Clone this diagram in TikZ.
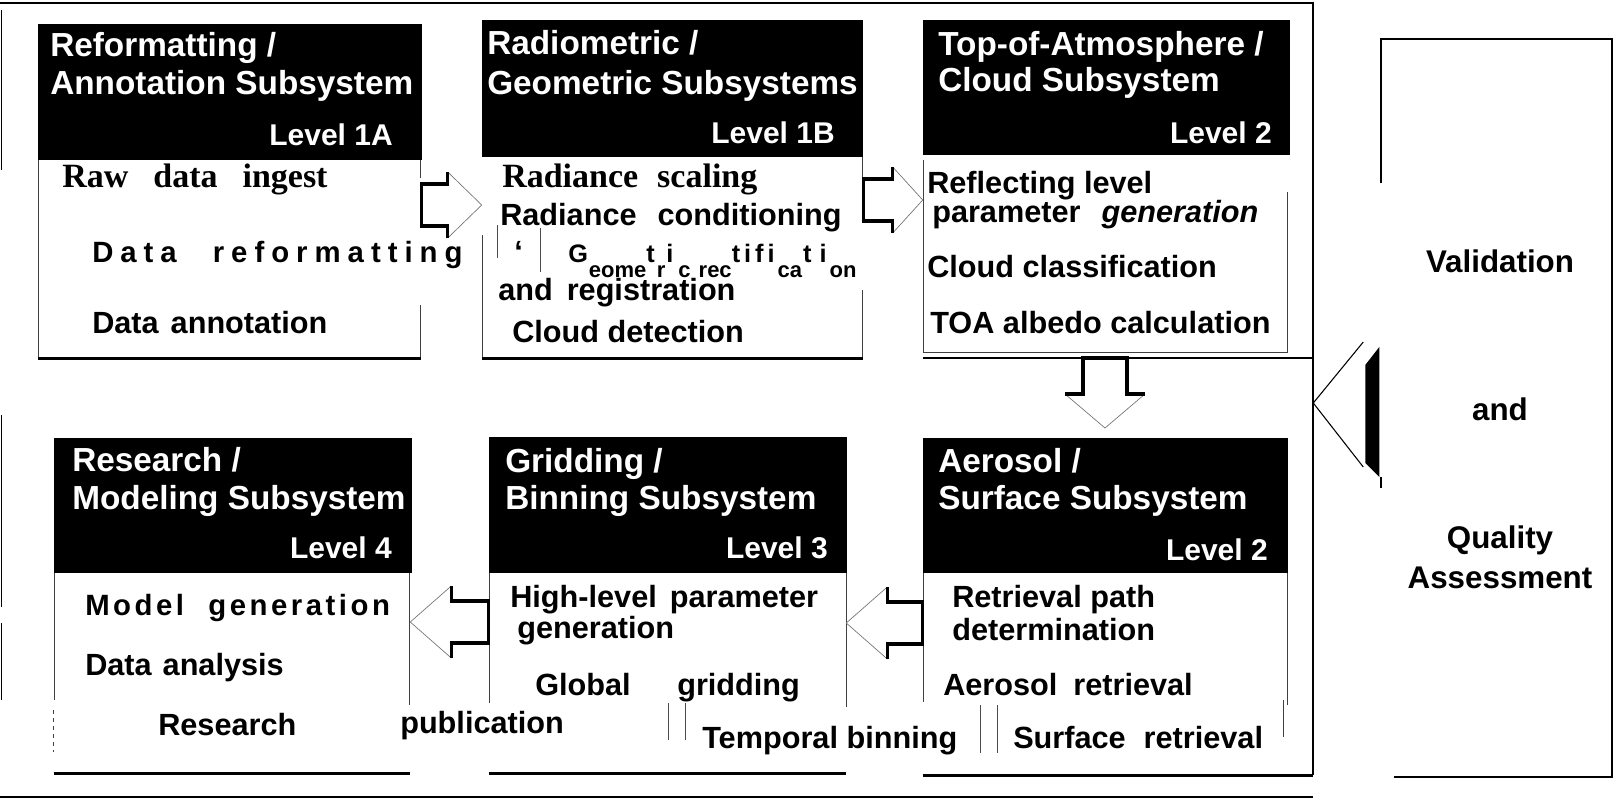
\documentclass[tikz,border=0pt]{standalone}
\usepackage{fontspec}
\setmainfont{Liberation Sans}
\newfontfamily\serifface{Liberation Serif}
\usetikzlibrary{calc,fit}
\newdimen\pxu \pxu=0.75pt
\newdimen\lsp
\newcommand\gap[1]{\hspace*{#1\pxu}}
\makeatletter
\def\spc#1{\spc@#1\relax}
\def\spc@#1{\ifx#1\relax\else#1\hspace*{\lsp}\expandafter\spc@\fi}
\makeatother
% lowered small letters inside the rectification line
\newcommand\lowsm[1]{\raisebox{-15\pxu}{\fontsize{16.5}{18}\selectfont #1}}
% block arrow: #1 tail, #2 tip, (#3,#4) direction, #5 head length, #6 head half-width, #7 shaft half-width
\newcommand\blockarrow[7]{%
  \coordinate (ba1) at ($(#2)+({-(#5)*(#3)-(#6)*(#4)},{-(#5)*(#4)+(#6)*(#3)})$);
  \coordinate (ba2) at ($(#2)+({-(#5)*(#3)+(#6)*(#4)},{-(#5)*(#4)-(#6)*(#3)})$);
  \coordinate (bs1) at ($(#2)+({-(#5)*(#3)-(#7)*(#4)},{-(#5)*(#4)+(#7)*(#3)})$);
  \coordinate (bs2) at ($(#2)+({-(#5)*(#3)+(#7)*(#4)},{-(#5)*(#4)-(#7)*(#3)})$);
  \coordinate (bt1) at ($(#1)+({-(#7)*(#4)},{(#7)*(#3)})$);
  \coordinate (bt2) at ($(#1)+({(#7)*(#4)},{-(#7)*(#3)})$);
  \fill[white] (ba1) -- (#2) -- (ba2) -- (bs2) -- (bt2) -- (bt1) -- (bs1) -- cycle;
  \draw[headedge] (ba1) -- (#2) -- (ba2);
  \draw[arrowshadow] (ba1) -- (bs1) -- (bt1) -- (bt2) -- (bs2) -- (ba2);
}
\tikzset{
  hdrbox/.style={fill=black, inner sep=0pt},
  bodybox/.style={inner sep=0pt},
  hdt/.style={anchor=base west, inner sep=0pt, text=white, font=\bfseries\fontsize{25}{30}\selectfont},
  lvl/.style={anchor=base east, inner sep=0pt, text=white, font=\bfseries\fontsize{22.5}{27}\selectfont},
  bt/.style={anchor=base west, inner sep=0pt, font=\bfseries\fontsize{23}{28}\selectfont},
  sbt/.style={anchor=base west, inner sep=0pt, font=\serifface\bfseries\fontsize{25.5}{30}\selectfont},
  geob/.style={anchor=base west, inner sep=0pt, font=\bfseries\fontsize{19}{23}\selectfont},
  valt/.style={anchor=base, inner sep=0pt, font=\bfseries\fontsize{23.5}{28}\selectfont},
  frameline/.style={line width=1.9pt},
  boxfloor/.style={line width=1.9pt},
  sideline/.style={line width=0.6pt, black!75},
  scrap/.style={line width=0.6pt, black!70},
  headedge/.style={line width=0.5pt, black!55},
  arrowshadow/.style={line width=2.4pt, line join=miter},
}
\begin{document}
\begin{tikzpicture}[x=0.75pt, y=-0.75pt]
\useasboundingbox (0,0) rectangle (1614,799);

% outer frame of the processing chain
\node[bodybox, fit={(0,3) (1313,797)}] (frame) {};
\draw[frameline] (0,3) -- (1313,3) -- (1313,775);
\draw[frameline] (0,797) -- (1313,797);
\draw[line width=1.1pt] (1.5,10) -- (1.5,170) (1.5,415) -- (1.5,607) (1.5,623) -- (1.5,700);

% validation box
\node[bodybox, fit={(1381,39) (1612,777)}] (val) {};
\draw[line width=1.5pt] (1381,183) -- (1381,39) -- (1612,39) -- (1612,777) -- (1394,777);
\draw[line width=1.5pt] (1381,477) -- (1381,488);
\node[valt] (v1) at (1500,272) {Validation};
\node[valt] (v2) at (1500,420) {and};
\node[valt] (v3) at (1500,548) {Quality};
\node[valt] (v4) at (1500,588) {Assessment};

% headers
\node[hdrbox, fit={(38,24) (422,160)}] (hA) {};
\node[hdrbox, fit={(482,20) (863,157)}] (hB) {};
\node[hdrbox, fit={(923,20) (1290,155)}] (hC) {};
\node[hdrbox, fit={(54,438) (412,573)}] (hD) {};
\node[hdrbox, fit={(489,437) (847,573)}] (hE) {};
\node[hdrbox, fit={(923,438) (1288,573)}] (hF) {};

\node[hdt] (tA1) at (50,57) {Reformatting /};
\node[hdt] (tA2) at (50,94) {Annotation Subsystem};
\node[lvl] (tA3) at (393,146) {Level 1A};
\node[hdt] (tB1) at (487,55) {Radiometric /};
\node[hdt] (tB2) at (487,94) {Geometric Subsystems};
\node[lvl] (tB3) at (835,143) {Level 1B};
\node[hdt] (tC1) at (938,56) {Top-of-Atmosphere /};
\node[hdt] (tC2) at (938,92) {Cloud Subsystem};
\node[lvl] (tC3) at (1272,143) {Level 2};
\node[hdt] (tD1) at (72,471) {Research /};
\node[hdt] (tD2) at (72,509) {Modeling Subsystem};
\node[lvl] (tD3) at (392,558) {Level 4};
\node[hdt] (tE1) at (505,472) {Gridding /};
\node[hdt] (tE2) at (505,509) {Binning Subsystem};
\node[lvl] (tE3) at (828,558) {Level 3};
\node[hdt] (tF1) at (938,472) {Aerosol /};
\node[hdt] (tF2) at (938,509) {Surface Subsystem};
\node[lvl] (tF3) at (1268,560) {Level 2};

% bodies
\node[bodybox, fit={(38,160) (421,358)}] (bA) {};
\node[bodybox, fit={(482,157) (863,358)}] (bB) {};
\node[bodybox, fit={(923,155) (1288,352)}] (bC) {};
\node[bodybox, fit={(54,573) (410,773)}] (bD) {};
\node[bodybox, fit={(489,573) (846,773)}] (bE) {};
\node[bodybox, fit={(923,573) (1288,775)}] (bF) {};

\draw[sideline] (38,160) -- (38,358) (420,160) -- (420,178) (420,305) -- (420,358);
\draw[sideline] (482,235) -- (482,357) (862,157) -- (862,187) (862,290) -- (862,357);
\draw[sideline] (923,160) -- (923,352) (1287,192) -- (1287,352) (923,352) -- (1288,352);
\draw[sideline] (54,573) -- (54,700) (409,573) -- (409,705);
\draw[sideline, dashed] (53,710) -- (53,752);
\draw[sideline] (489,573) -- (489,703) (846,573) -- (846,707);
\draw[sideline] (923,573) -- (923,702) (1287,573) -- (1287,705) (1283,700) -- (1283,737);

\draw[boxfloor] (bA.south west) -- (bA.south east);
\draw[boxfloor] (bB.south west) -- (bB.south east);
\draw[boxfloor] (bC.west |- 0,358) -- (frame.east |- 0,358);
\draw[boxfloor] (bD.south west) -- (bD.south east);
\draw[boxfloor] (bE.south west) -- (bE.south east);
\draw[boxfloor] (bF.south west) -- (frame.east |- bF.south);

% leftover rules between text lines
\draw[scrap] (497,225) -- (497,258) (540,228) -- (540,272);
\draw[scrap] (668,703) -- (668,740) (685,703) -- (685,740);
\draw[scrap] (980,705) -- (980,753) (997,705) -- (997,753);

% body texts
\node[sbt] (A1) at (62,187) {Raw\gap{25}data\gap{25}ingest};
\node[bt, font=\bfseries\fontsize{22}{26}\selectfont] (A2) at (92,262) {\lsp=7\pxu\spc{Data}\gap{29}\spc{reformatting}};
\node[bt] (A3) at (92,333) {Data\gap{12}annotation};

\node[sbt] (B1) at (502,187) {Radiance\gap{19}scaling};
\node[bt] (B2) at (500,225) {Radiance\gap{21}conditioning};
\node[bt] (Bq) at (514,262) {‘};
\node[geob] (B3) at (568,262) {G\gap{1}\lowsm{eome}t\gap{2}\lowsm{r}\gap{1}i\gap{5}\lowsm{c}\gap{8}\lowsm{rec}\lsp=4\pxu\spc{tif}i\gap{3}\lowsm{ca}\gap{1}t\gap{8}i\gap{3}\lowsm{on}};
\node[bt] (B4) at (498,300) {and\gap{14}registration};
\node[bt] (B5) at (512,342) {Cloud detection};

\node[bt] (C1) at (927,193) {Reflecting level};
\node[bt] (C2) at (932,222) {parameter\gap{21}{\itshape generation}};
\node[bt] (C3) at (927,277) {Cloud classification};
\node[bt] (C4) at (930,333) {TOA albedo calculation};

\node[bt, font=\bfseries\fontsize{22}{26}\selectfont] (D1) at (85,615) {\lsp=3.5\pxu\spc{Model}\gap{21}\spc{generation}};
\node[bt] (D2) at (85,675) {Data\gap{11}analysis};
\node[bt] (D3) at (158,735) {Research};
\node[bt] (D4) at (400,733) {publication};

\node[bt] (E1) at (510,607) {High-level\gap{13}parameter};
\node[bt] (E2) at (517,638) {generation};
\node[bt] (E3) at (535,695) {Global};
\node[bt] (E4) at (677,695) {gridding};
\node[bt] (E5) at (702,748) {Temporal binning};

\node[bt] (F1) at (952,607) {Retrieval path};
\node[bt] (F2) at (952,640) {determination};
\node[bt] (F3) at (943,695) {Aerosol\gap{16}retrieval};
\node[bt] (F4) at (1013,748) {Surface\gap{18}retrieval};

% flow arrows between subsystems
\coordinate (rowAB) at (0,205);
\coordinate (rowBC) at (0,200);
\coordinate (rowFE) at (0,623);
\coordinate (rowED) at (0,622);
\coordinate (colCF) at (1105,0);
\coordinate (abT) at (bA.east |- rowAB);
\coordinate (abP) at (bB.west |- rowAB);
\coordinate (bcT) at (bB.east |- rowBC);
\coordinate (bcP) at (bC.west |- rowBC);
\coordinate (cfT) at (colCF |- 0,358);
\coordinate (cfP) at (colCF |- 0,428);
\coordinate (feT) at (bF.west |- rowFE);
\coordinate (feP) at (bE.east |- rowFE);
\coordinate (edT) at (bE.west |- rowED);
\coordinate (edP) at (bD.east |- rowED);
\blockarrow{abT}{abP}{1}{0}{34}{33}{21}
\blockarrow{bcT}{bcP}{1}{0}{30}{33}{21}
\blockarrow{cfT}{cfP}{0}{1}{34}{40}{22}
\blockarrow{feT}{feP}{-1}{0}{41}{36}{21}
\blockarrow{edT}{edP}{-1}{0}{41}{36}{21}

% arrow from the validation box into the chain
\coordinate (vtip) at ($(frame.east)+(0,3)$);
\draw[line width=0.8pt] ($(vtip)+(50,-61)$) -- (vtip) -- ($(vtip)+(50,64)$);
\fill ($(vtip)+(52,-38)$) -- ($(vtip)+(66,-56)$) -- ($(vtip)+(66,74)$) -- ($(vtip)+(52,60)$) -- cycle;
\end{tikzpicture}
\end{document}
